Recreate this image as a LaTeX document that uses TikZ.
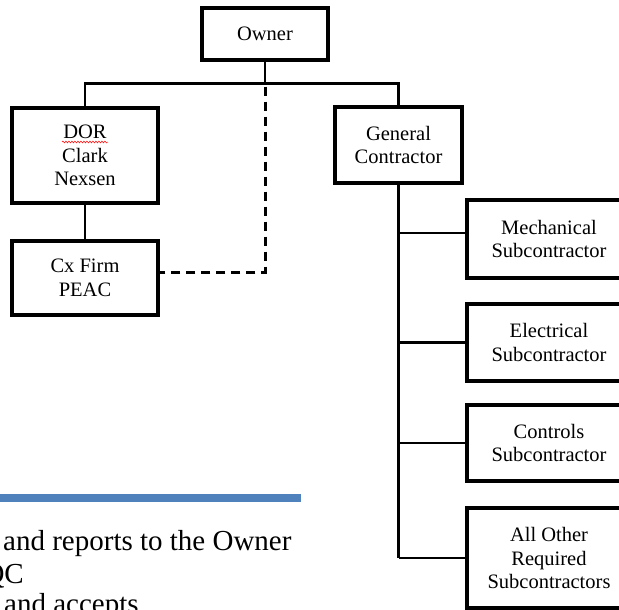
\documentclass[tikz,border=0pt]{standalone}
\usepackage{fontspec}
\setmainfont{Liberation Serif}
\usepackage{xcolor}
\usepackage{tikz}
\usetikzlibrary{calc, positioning, decorations.pathmorphing}
\definecolor{barblue}{HTML}{4F81BD}

\begin{document}
\begin{tikzpicture}[x=1pt, y=-1pt,
    orgbox/.style={draw, line width=3.2pt, align=center, inner sep=0pt,
        font=\fontsize{20.5}{23.5}\selectfont},
    link/.style={line width=2.6pt},
    note/.style={inner sep=0pt, font=\fontsize{29}{33}\selectfont}]
    \useasboundingbox (0,0) rectangle (619,610);
    \clip (0,0) rectangle (619,610);

    % Các hộp
    \node[orgbox, minimum width=126pt, minimum height=52pt] (owner) at (265,34) {Owner};
    \node[orgbox, minimum width=146pt, minimum height=95pt] (dor) at (85,155.5) {DOR\\Clark\\Nexsen};
    \node[orgbox, minimum width=146pt, minimum height=74pt] (cx) at (85,278) {Cx Firm\\PEAC};
    \node[orgbox, minimum width=127pt, minimum height=76pt] (gc) at (398.5,145) {General\\Contractor};
    \node[orgbox, minimum width=164pt, minimum height=78pt] (mech) at (549,239) {Mechanical\\Subcontractor};
    \node[orgbox, minimum width=164pt, minimum height=77pt] (elec) at (549,342.5) {Electrical\\Subcontractor};
    \node[orgbox, minimum width=164pt, minimum height=76pt] (ctrl) at (549,443) {Controls\\Subcontractor};
    \node[orgbox, minimum width=164pt, minimum height=100pt] (other) at (549,558) {All Other\\Required\\Subcontractors};

    % Gạch đỏ dưới DOR
    \draw[red, line width=0.5pt, decorate, decoration={snake, amplitude=0.9pt, segment length=3pt}]
        (62,142) -- (108,142);

    % Đường nối
    \coordinate (bus) at ($(owner.south)+(0,22)$);
    \coordinate (cxin) at ([yshift=6pt]cx.east);
    \coordinate (mechin) at ([yshift=6pt]mech.west);
    \draw[link] (owner.south) -- (bus);
    \draw[link] (bus) -| (dor.north);
    \draw[link] (bus) -| (gc.north);
    \draw[link] (dor.south) -- (cx.north);
    \draw[link, dash pattern=on 9pt off 6pt, line width=3pt]
        ($(bus)+(0,3)$) |- (cxin);

    % Nhánh thầu phụ
    \draw[link] (gc.south) -- (gc.south |- other.west);
    \draw[link] (gc.south |- mechin) -- (mechin);
    \draw[link] (gc.south |- elec.west) -- (elec.west);
    \draw[link] (gc.south |- ctrl.west) -- (ctrl.west);
    \draw[link] (gc.south |- other.west) -- (other.west);

    % Thanh xanh và chữ bên dưới
    \draw[barblue, line width=8pt] (0,498) -- (301,498);
    \node[note, anchor=base west] (note1) at (3,550) {and reports to the Owner};
    \node[note, anchor=base east] (note2) at (24,583) {QC};
    \node[note, anchor=base west] (note3) at (4,613) {and accepts};
\end{tikzpicture}
\end{document}
